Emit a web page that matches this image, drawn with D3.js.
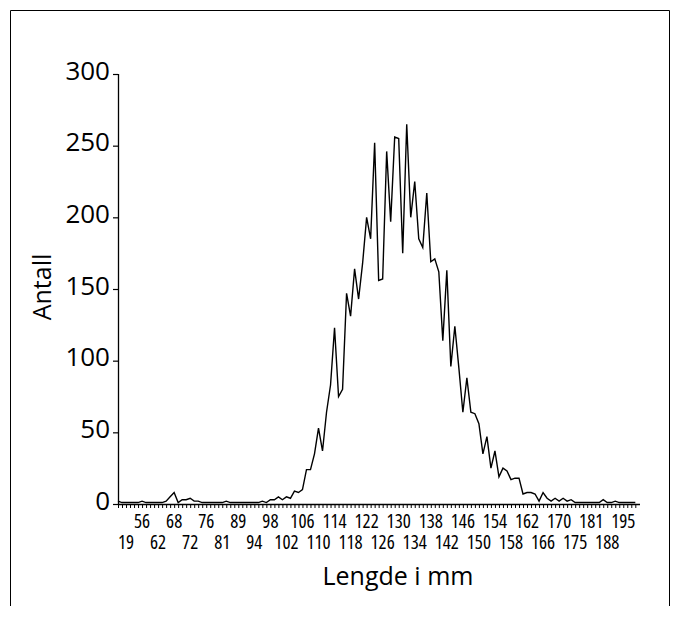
<!DOCTYPE html>
<html>
<head>
<meta charset="utf-8">
<script src="https://cdn.jsdelivr.net/npm/d3@7"></script>
<style>
  html, body { margin: 0; padding: 0; background: #fff; }
  svg { display: block; }
  text { font-family: "Open Sans", "Noto Sans", sans-serif; fill: #000; }
</style>
</head>
<body>
<svg id="chart" width="680" height="621"></svg>
<script>
// Length classes (mm) present in the sample
const lengths = [
  12, 16, 19, 41, 47, 52, 56, 58, 59, 61, 62, 64, 66, 67, 68, 69, 70, 71, 72, 73,
  74, 75, 76, 77, 78, 80, 81, 83, 85, 87, 89, 90, 91, 93, 94, 95, 96, 97, 98, 99,
  100, 101, 102, 103, 104, 105, 106, 107, 108, 109, 110, 111, 112, 113, 114, 115,
  116, 117, 118, 119, 120, 121, 122, 123, 124, 125, 126, 127, 128, 129, 130, 131,
  132, 133, 134, 135, 136, 137, 138, 139, 140, 141, 142, 143, 144, 145, 146, 147,
  148, 149, 150, 151, 152, 153, 154, 155, 156, 157, 158, 159, 160, 161, 162, 163,
  164, 165, 166, 167, 168, 169, 170, 171, 172, 173, 175, 176, 178, 179, 181, 182,
  184, 186, 188, 189, 191, 193, 195, 197, 201, 208
];

// Number of fish per length class
const counts = [
  2, 1, 1, 1, 1, 1, 2, 1, 1, 1, 1, 1, 2, 5, 8, 1, 3, 3, 4, 2,
  2, 1, 1, 1, 1, 1, 1, 2, 1, 1, 1, 1, 1, 1, 1, 1, 2, 1, 3, 3,
  5, 3, 5, 4, 9, 8, 10, 24, 24, 35, 53, 37, 64, 83, 123, 75,
  80, 147, 131, 164, 143, 168, 200, 185, 252, 156, 157, 246, 197, 256, 255, 175,
  265, 200, 225, 185, 179, 217, 169, 171, 162, 114, 163, 96, 124, 95, 64, 88,
  64, 63, 56, 35, 47, 25, 37, 19, 25, 23, 17, 18, 18, 7, 8, 8,
  7, 2, 8, 4, 2, 4, 2, 4, 2, 3, 1, 1, 1, 1, 1, 1,
  1, 3, 1, 1, 2, 1, 1, 1, 1, 1
];

// Lengths that carry a tick label (every fourth class, alternating rows)
const labelledLengths = [
  19, 56, 62, 68, 72, 76, 81, 89, 94, 98, 102, 106, 110, 114, 118, 122,
  126, 130, 134, 138, 142, 146, 150, 154, 158, 162, 166, 170, 175, 181, 188, 195
];

const yTicks = [0, 50, 100, 150, 200, 250, 300];

const svg = d3.select("#chart");

// Frame around the figure (open at the bottom)
svg.append("path")
  .attr("d", "M10.5,606 V10.5 H669.5 V606")
  .attr("fill", "none")
  .attr("stroke", "#000")
  .attr("stroke-width", 1);

const plotLeft = 118, plotRight = 635.3, plotTop = 74, plotBottom = 504;

const x = d3.scalePoint().domain(lengths).range([plotLeft, plotRight]);
const y = d3.scaleLinear().domain([0, 300]).range([plotBottom, plotTop]);

// Y axis
const yAxis = d3.axisLeft(y).tickValues(yTicks).tickSize(5).tickPadding(3);
const gy = svg.append("g").attr("transform", `translate(${plotLeft},0)`).call(yAxis);
gy.select(".domain").attr("d", `M0.5,${plotBottom}V${plotTop}`).attr("stroke-width", 1.3);
gy.selectAll(".tick line").attr("stroke-width", 1.2);
gy.selectAll(".tick text")
  .style("font-size", "26px")
  .attr("dy", "0.2em");

// X axis: a small tick for every length class
const xAxis = d3.axisBottom(x).tickSize(4).tickFormat("");
const gx = svg.append("g").attr("transform", `translate(0,${plotBottom})`).call(xAxis);
gx.select(".domain").attr("d", `M${plotLeft},0.5H640`).attr("stroke-width", 1.3);
gx.selectAll(".tick line").attr("stroke-width", 1);

// Tick labels in two staggered rows
svg.append("g").selectAll("text")
  .data(labelledLengths)
  .join("text")
  .attr("x", d => x(d))
  .attr("y", (d, i) => i % 2 === 1 ? 528 : 549)
  .attr("text-anchor", "middle")
  .style("font-size", "19px")
  .style("font-stretch", "75%")
  .text(d => d);

// Frequency line
const line = d3.line()
  .x((d, i) => x(lengths[i]))
  .y(d => y(d));

svg.append("path")
  .datum(counts)
  .attr("d", line)
  .attr("fill", "none")
  .attr("stroke", "#000")
  .attr("stroke-width", 1.4)
  .attr("stroke-linejoin", "miter");

// Axis titles
svg.append("text")
  .attr("transform", "translate(51,287) rotate(-90)")
  .attr("text-anchor", "middle")
  .style("font-size", "25px")
  .text("Antall");

svg.append("text")
  .attr("x", 398)
  .attr("y", 585)
  .attr("text-anchor", "middle")
  .style("font-size", "25px")
  .text("Lengde i mm");
</script>
</body>
</html>
